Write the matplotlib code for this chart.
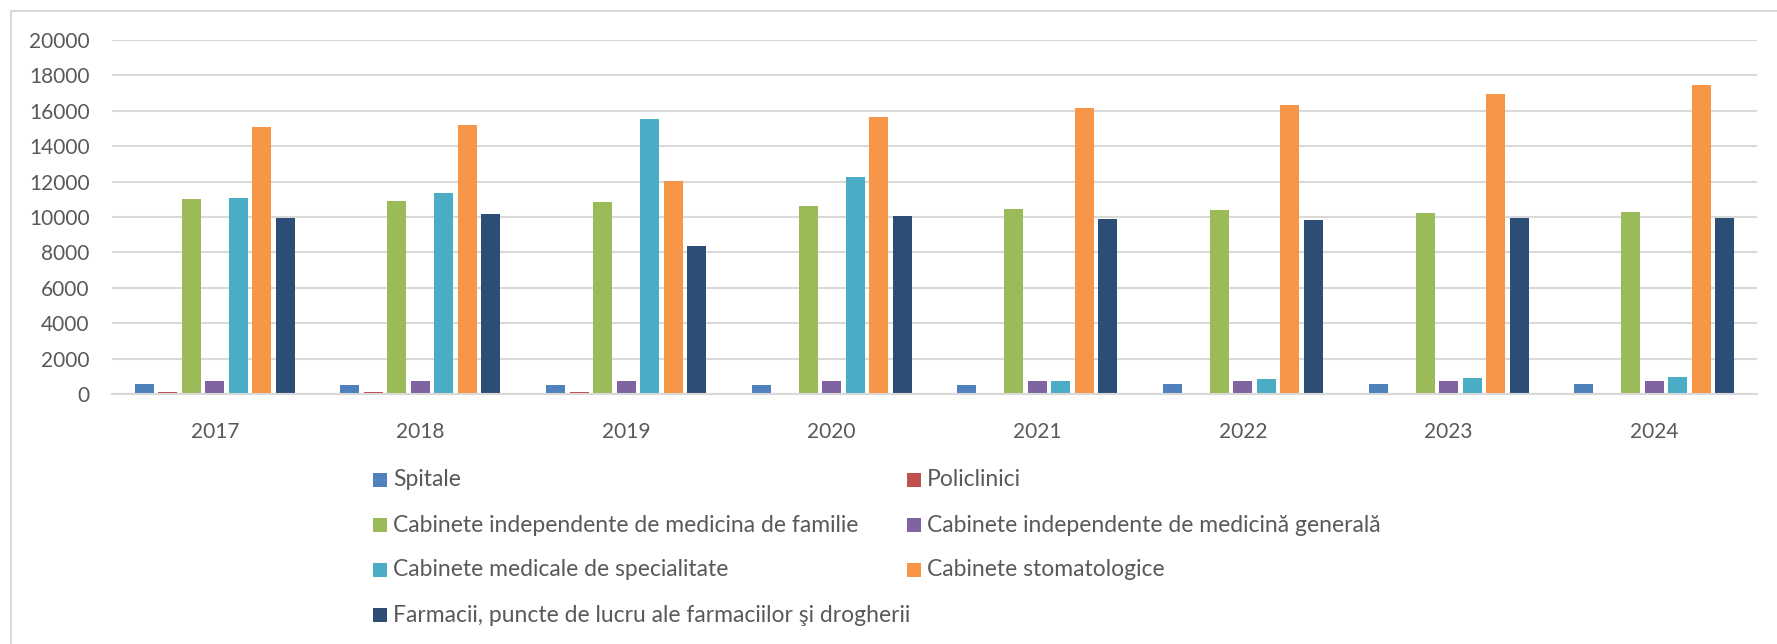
import numpy as np
import matplotlib
matplotlib.use("Agg")
import matplotlib.pyplot as plt
from matplotlib.patches import Rectangle

plt.rcParams['font.family'] = ['Lato', 'DejaVu Sans']

years = ['2017', '2018', '2019', '2020', '2021', '2022', '2023', '2024']
series_names = ['Spitale',
                'Policlinici',
                'Cabinete independente de medicina de familie',
                'Cabinete independente de medicină generală',
                'Cabinete medicale de specialitate',
                'Cabinete stomatologice',
                'Farmacii, puncte de lucru ale farmaciilor şi drogherii']

spitale = [563, 507, 507, 507, 507, 563, 563, 563]
policlinici = [110, 110, 110, 55, 55, 55, 55, 55]
med_familie = [11030, 10920, 10860, 10640, 10470, 10410, 10240, 10300]
med_generala = [732, 732, 732, 732, 732, 732, 732, 732]
specialitate = [11090, 11370, 15530, 12270, 732, 845, 900, 957]
stomatologice = [15080, 15200, 12040, 15650, 16150, 16320, 16940, 17450]
farmacii = [9960, 10190, 8390, 10070, 9900, 9850, 9960, 9960]

colors = ['#4F81BD', '#C0504D', '#9BBB59', '#8064A2', '#4BACC6', '#F79646', '#2C4D75']
all_series = [spitale, policlinici, med_familie, med_generala, specialitate, stomatologice, farmacii]

W, H = 1777, 644
fig = plt.figure(figsize=(W / 100, H / 100), dpi=100)

# chart area border (cut off at right and bottom)
fig.add_artist(Rectangle((11 / W, -0.1), 1.2, 1 - 10.7 / H + 0.1, transform=fig.transFigure,
                         fill=False, edgecolor='#d9d9d9', linewidth=1.5))

ax = fig.add_axes([112 / W, 1 - 394.3 / H, (1757 - 112) / W, (394.3 - 39.7) / H])

x = np.arange(len(years))
slot = 0.8 / 7
bw = slot * 0.81
for i, (vals, c) in enumerate(zip(all_series, colors)):
    ax.bar(x - 0.4 + slot * (i + 0.5), vals, width=bw, color=c, zorder=3)

ax.set_xlim(-0.5, len(years) - 0.5)
ax.set_ylim(0, 20000)
ax.set_yticks(np.arange(0, 20001, 2000))
ax.set_xticks(x)
ax.set_xticklabels(years)
ax.grid(axis='y', color='#d9d9d9', linewidth=1.5, zorder=0)
for s in ['top', 'right', 'left']:
    ax.spines[s].set_visible(False)
ax.spines['bottom'].set_color('#d9d9d9')
ax.spines['bottom'].set_linewidth(1.5)
ax.spines['bottom'].set_zorder(4)
ax.tick_params(axis='y', length=0, pad=16, labelsize=15, labelcolor='#595959')
ax.tick_params(axis='x', length=0, pad=20, labelsize=15, labelcolor='#595959')

# legend, two columns, filled row by row
col_x = [373, 907]
row_y = [480, 525, 570, 615]
for i, name in enumerate(series_names):
    r, c = i // 2, i % 2
    fig.add_artist(Rectangle((col_x[c] / W, 1 - (row_y[r] + 7) / H), 14 / W, 14 / H,
                             transform=fig.transFigure, color=colors[i], linewidth=0))
    fig.text((col_x[c] + 20) / W, 1 - row_y[r] / H, name, fontsize=16.5,
             color='#595959', va='center', ha='left')

fig.savefig('out.png', dpi=100, facecolor='white')
